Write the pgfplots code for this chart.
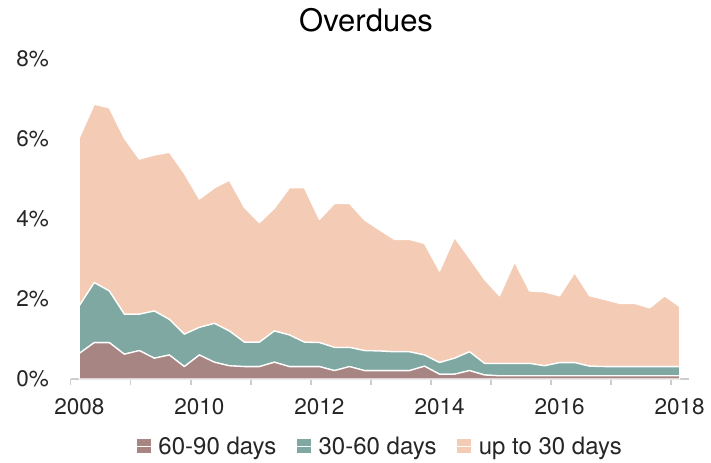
\documentclass[border=0pt]{standalone}
\usepackage{fontspec}
\setmainfont{TeX Gyre Heros}
\usepackage{pgfplots}
\usepackage{pgfplotstable}
\pgfplotsset{compat=1.18}
\definecolor{cBrown}{RGB}{166,133,130}
\definecolor{cTeal}{RGB}{126,168,161}
\definecolor{cPeach}{RGB}{244,204,181}
\definecolor{cAxis}{RGB}{205,205,205}

\pgfplotstableread{
x a b c
2008.00 0.64 1.19 4.20
2008.25 0.91 1.50 4.46
2008.50 0.91 1.29 4.58
2008.75 0.62 1.00 4.40
2009.00 0.71 0.91 3.88
2009.25 0.52 1.18 3.90
2009.50 0.60 0.89 4.18
2009.75 0.31 0.81 4.02
2010.00 0.60 0.69 3.21
2010.25 0.42 0.97 3.39
2010.50 0.33 0.87 3.77
2010.75 0.31 0.61 3.37
2011.00 0.31 0.61 2.99
2011.25 0.42 0.78 3.07
2011.50 0.31 0.79 3.68
2011.75 0.31 0.61 3.86
2012.00 0.31 0.60 3.08
2012.25 0.21 0.58 3.60
2012.50 0.31 0.48 3.60
2012.75 0.21 0.50 3.27
2013.00 0.21 0.49 3.03
2013.25 0.21 0.47 2.81
2013.50 0.21 0.47 2.81
2013.75 0.32 0.28 2.79
2014.00 0.12 0.29 2.29
2014.25 0.12 0.40 3.02
2014.50 0.21 0.47 2.34
2014.75 0.10 0.29 2.10
2015.00 0.08 0.31 1.69
2015.25 0.08 0.31 2.54
2015.50 0.08 0.31 1.81
2015.75 0.08 0.25 1.85
2016.00 0.08 0.33 1.67
2016.25 0.08 0.33 2.25
2016.50 0.08 0.24 1.76
2016.75 0.08 0.23 1.68
2017.00 0.08 0.23 1.58
2017.25 0.08 0.23 1.58
2017.50 0.08 0.23 1.47
2017.75 0.08 0.23 1.77
2018.00 0.08 0.23 1.50
}\data

\begin{document}
\begin{tikzpicture}
\begin{axis}[
  at={(0,0)}, anchor=south west,
  scale only axis,
  width=618bp, height=320bp,
  xmin=2007.857, xmax=2018.15,
  ymin=0, ymax=8,
  stack plots=y,
  axis x line*=bottom,
  axis y line*=left,
  y axis line style={draw=none},
  x axis line style={draw=cAxis, line width=1.5bp, -},
  ytick={0,2,4,6,8},
  yticklabels={0\%,2\%,4\%,6\%,8\%},
  ytick style={draw=none},
  xtick={2008,2010,2012,2014,2016,2018},
  xticklabels={2008,2010,2012,2014,2016,2018},
  major x tick style={draw=none},
  minor xtick={2007.857,2008.857,2009.857,2010.857,2011.857,2012.857,2013.857,2014.857,2015.857,2016.857,2017.857},
  minor x tick style={draw=cAxis, line width=1.5bp},
  minor tick length=6bp,
  tick align=outside,
  xtick pos=bottom,
  tick label style={font=\fontsize{22.5bp}{26bp}\selectfont, text=black!85},
  xticklabel style={yshift=-12bp},
  yticklabel style={xshift=-14bp},
  title={Overdues},
  title style={font=\fontsize{31bp}{36bp}\selectfont, at={(rel axis cs:0.478,1.104)}, anchor=center},
  legend columns=3,
  legend style={draw=none, fill=none, at={(0.5005,-0.212)}, anchor=center,
    font=\fontsize{24bp}{28bp}\selectfont, text=black!85,
    /tikz/every even column/.append style={column sep=18bp}},
  legend image code/.code={\fill[#1,draw=none] (0bp,-6bp) rectangle (14bp,8bp); \path (0bp,0bp) -- (19bp,0bp);},
  every axis plot/.append style={draw=white, line width=1.3bp, line join=round},
]
\addplot[fill=cBrown] table[x=x,y=a]{\data} \closedcycle;
\addlegendentry{60-90 days}
\addplot[fill=cTeal] table[x=x,y=b]{\data} \closedcycle;
\addlegendentry{30-60 days}
\addplot[fill=cPeach] table[x=x,y=c]{\data} \closedcycle;
\addlegendentry{up to 30 days}
\end{axis}
\pgfresetboundingbox
\useasboundingbox (-70.7bp,-84bp) rectangle (640.3bp,379bp);
\end{tikzpicture}
\end{document}
